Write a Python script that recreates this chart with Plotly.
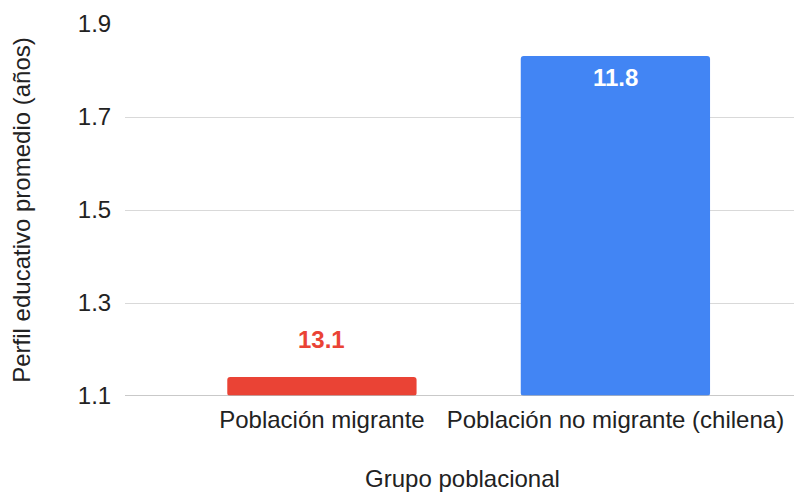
import plotly.graph_objects as go

categories = ["Población migrante", "Población no migrante (chilena)"]
values = [1.141, 1.831]
value_labels = ["13.1", "11.8"]
bar_colors = ["#ea4335", "#4285f4"]
label_colors = ["#ea4335", "#ffffff"]
label_shift = [37, -21]
y_ticks = [1.1, 1.3, 1.5, 1.7, 1.9]

FONT = "Liberation Sans, Arial, sans-serif"
TXT = "#222222"
FS = 24

fig = go.Figure()
fig.add_trace(go.Bar(
    x=[0, 1], y=[v - 1.1 for v in values], base=1.1,
    marker=dict(color=bar_colors, line=dict(width=0)),
    width=0.645, hoverinfo="skip",
))

for i, (v, lab) in enumerate(zip(values, value_labels)):
    fig.add_annotation(
        x=i, y=v, text=f"<b>{lab}</b>", showarrow=False,
        yshift=label_shift[i], yanchor="middle",
        font=dict(family=FONT, size=FS, color=label_colors[i]),
    )

fig.update_layout(
    width=794, height=484,
    margin=dict(l=117, r=2, t=16, b=96, autoexpand=False),
    paper_bgcolor="white", plot_bgcolor="white",
    font=dict(family=FONT, size=FS, color=TXT),
    barcornerradius=3,
    showlegend=False,
    xaxis=dict(
        range=[-0.671, 1.629], tickmode="array", tickvals=[0, 1], ticktext=categories,
        showgrid=False, zeroline=False, showline=False,
        ticks="outside", ticklen=2, tickcolor="rgba(0,0,0,0)",
        title=dict(text="Grupo poblacional", standoff=39, font=dict(family=FONT, size=FS, color=TXT)),
        tickfont=dict(family=FONT, size=FS, color=TXT),
    ),
    yaxis=dict(
        range=[1.1, 1.9], tickmode="array", tickvals=y_ticks,
        ticktext=[f"{t:.1f}" for t in y_ticks],
        showgrid=True, gridcolor="#d9d9d9", gridwidth=1, zeroline=False,
        ticks="outside", ticklen=8, tickcolor="rgba(0,0,0,0)",
        title=dict(text="Perfil educativo promedio (años)", standoff=43, font=dict(family=FONT, size=FS, color=TXT)),
        tickfont=dict(family=FONT, size=FS, color=TXT),
    ),
)
fig.add_shape(type="line", xref="paper", yref="y", x0=0, x1=1, y0=1.1, y1=1.1,
              line=dict(color="#b7b7b7", width=1.5), layer="above")

fig.write_html("out.html")
